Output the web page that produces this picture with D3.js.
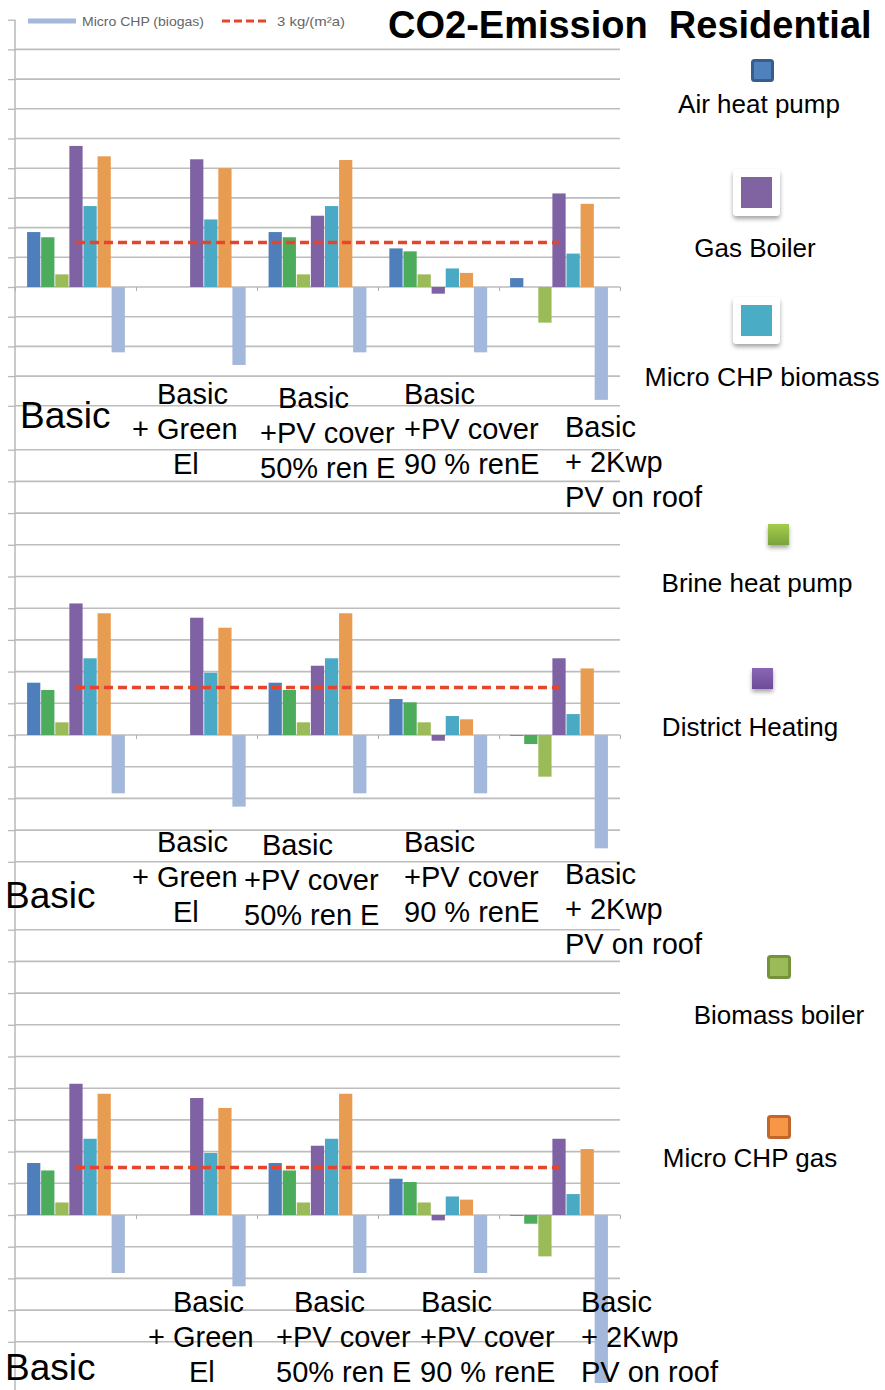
<!DOCTYPE html>
<html><head><meta charset="utf-8">
<script src="https://cdn.jsdelivr.net/npm/d3@7"></script>
<style>
body{margin:0;background:#fff}
svg{display:block}
text{font-family:"Liberation Sans",Arial,Helvetica,sans-serif}
</style>
</head><body>
<svg id="c" width="885" height="1390"></svg>
<script>
// ---------------- DATA ----------------
const categories = ["Basic", "Basic + Green El", "Basic +PV cover 50% ren E", "Basic +PV cover 90 % renE", "Basic + 2Kwp PV on roof"];
const labelLines = [["Basic"], ["Basic", "+ Green", "El"], ["Basic", "+PV cover", "50% ren E"], ["Basic", "+PV cover", "90 % renE"], ["Basic", "+ 2Kwp", "PV on roof"]];
const seriesNames = ["Air heat pump", "Brine heat pump", "Biomass boiler", "Gas Boiler", "Micro CHP biomass", "Micro CHP gas", "Micro CHP (biogas)"];
const seriesColors = ["#4f7fbb", "#4dab5c", "#9bbb59", "#7e62a3", "#4aa9c4", "#e89c52", "#a3b8db"];
const yTicks = [-8, -6, -4, -2, 0, 2, 4, 6, 8, 10, 12, 14, 16, 18];
const thresholdName = "3 kg/(m\u00b2a)";
const thresholdValues = [3, 3, 3, 3, 3];
const titleText = "CO2-Emission  Residential";

// values [series][category], one table per panel (kg CO2/(m²a))
const panel1Values = [
  [3.7, 0, 3.7, 2.6, 0.6],
  [3.35, 0, 3.35, 2.4, 0],
  [0.85, 0, 0.85, 0.85, -2.4],
  [9.5, 8.6, 4.8, -0.45, 6.3],
  [5.45, 4.55, 5.45, 1.25, 2.25],
  [8.8, 8.0, 8.55, 0.95, 5.6],
  [-4.4, -5.25, -4.4, -4.4, -7.6]
];
const panel2Values = [
  [3.3, 0, 3.3, 2.27, -0.05],
  [2.84, 0, 2.84, 2.06, -0.57],
  [0.8, 0, 0.8, 0.8, -2.63],
  [8.3, 7.4, 4.37, -0.36, 4.84],
  [4.84, 3.93, 4.84, 1.2, 1.32],
  [7.68, 6.77, 7.68, 0.99, 4.2],
  [-3.68, -4.52, -3.68, -3.68, -7.15]
];
const panel3Values = [
  [3.28, 0, 3.28, 2.29, -0.05],
  [2.81, 0, 2.81, 2.08, -0.55],
  [0.79, 0, 0.79, 0.79, -2.61],
  [8.28, 7.38, 4.37, -0.34, 4.81],
  [4.81, 3.91, 4.81, 1.17, 1.32],
  [7.65, 6.75, 7.65, 0.97, 4.16],
  [-3.66, -4.5, -3.66, -3.66, -10.6]
];
const legendNames = ["Air heat pump", "Gas Boiler", "Micro CHP biomass", "Brine heat pump", "District Heating", "Biomass boiler", "Micro CHP gas"];
const legendFills = ["#4f81bd", "#8064a2", "#4bacc6", "#9bbb59", "#7f5aa8", "#9bbb59", "#f79646"];

// ---------------- LAYOUT ----------------
const svg = d3.select("#c");
const defs = svg.append("defs");
const sh = defs.append("filter").attr("id", "sh").attr("x", "-40%").attr("y", "-40%").attr("width", "180%").attr("height", "180%");
sh.append("feDropShadow").attr("dx", 0).attr("dy", 3).attr("stdDeviation", 2).attr("flood-color", "#000").attr("flood-opacity", 0.35);
const gg = defs.append("linearGradient").attr("id", "gBrine").attr("x1", 0).attr("y1", 0).attr("x2", 0).attr("y2", 1);
gg.append("stop").attr("offset", "0%").attr("stop-color", "#a6cc4e");
gg.append("stop").attr("offset", "100%").attr("stop-color", "#79a33a");
const gd = defs.append("linearGradient").attr("id", "gDist").attr("x1", 0).attr("y1", 0).attr("x2", 0).attr("y2", 1);
gd.append("stop").attr("offset", "0%").attr("stop-color", "#8a66b4");
gd.append("stop").attr("offset", "100%").attr("stop-color", "#6d4c98");

const plotX = [15, 620];
const panels = [
  { values: panel1Values, yRange: [405.8, 19.7], axisSpan: [19.7, 440], grid: yTicks.slice(0, -1),
    labels: [{ x: [20], y: 428 }, { x: [157, 132, 173], y: 404 }, { x: [278, 260, 260], y: 408 }, { x: [404, 404, 404], y: 404 }, { x: [565, 565, 565], y: 437 }] },
  { values: panel2Values, yRange: [861.8, 449.7], axisSpan: [440, 920], grid: yTicks,
    labels: [{ x: [5], y: 908 }, { x: [157, 132, 173], y: 852 }, { x: [262, 244, 244], y: 855 }, { x: [404, 404, 404], y: 852 }, { x: [565, 565, 565], y: 884 }] },
  { values: panel3Values, yRange: [1341.8, 929.7], axisSpan: [920, 1390], grid: yTicks,
    labels: [{ x: [5], y: 1380 }, { x: [173, 148, 189], y: 1312 }, { x: [294, 276, 276], y: 1312 }, { x: [421, 420, 420], y: 1312 }, { x: [581, 581, 581], y: 1312 }] }
];

const x0 = d3.scaleBand().domain(categories).range(plotX).paddingInner(0.19).paddingOuter(0.1);
const x1 = d3.scaleBand().domain(seriesNames).range([0, x0.bandwidth()]).paddingInner(0.06);
const xb = d3.scaleLinear().domain([0, categories.length]).range(plotX);

panels.forEach((p, pi) => {
  const y = d3.scaleLinear().domain([-8, 18]).range(p.yRange);
  const g = svg.append("g");

  // gridlines
  g.selectAll("line.grid").data(p.grid).join("line")
    .attr("x1", plotX[0]).attr("x2", plotX[1])
    .attr("y1", d => y(d)).attr("y2", d => y(d))
    .attr("stroke", "#bdbdbd").attr("stroke-width", 1.6);

  // y axis (ticks only, no labels)
  const ya = g.append("g").attr("transform", `translate(${plotX[0]},0)`)
    .call(d3.axisLeft(y).tickValues(yTicks).tickFormat("").tickSize(7).tickSizeOuter(0));
  ya.selectAll("line").attr("stroke", "#b8b8b8").attr("stroke-width", 1.3);
  ya.select(".domain").remove();
  g.append("line").attr("x1", plotX[0]).attr("x2", plotX[0])
    .attr("y1", p.axisSpan[0]).attr("y2", p.axisSpan[1])
    .attr("stroke", "#b8b8b8").attr("stroke-width", 1.5);

  // category ticks on zero line
  const xa = g.append("g").attr("transform", `translate(0,${y(0)})`)
    .call(d3.axisBottom(xb).ticks(categories.length).tickFormat("").tickSize(4).tickSizeOuter(0));
  xa.select(".domain").remove();
  xa.selectAll("line").attr("stroke", "#b0b0b0");

  // bars
  const rows = [];
  categories.forEach((c, ci) => seriesNames.forEach((s, si) => rows.push({ c, s, si, v: p.values[si][ci] })));
  g.selectAll("rect.bar").data(rows.filter(d => d.v !== 0)).join("rect")
    .attr("x", d => x0(d.c) + x1(d.s))
    .attr("width", x1.bandwidth())
    .attr("y", d => y(Math.max(0, d.v)))
    .attr("height", d => Math.abs(y(d.v) - y(0)))
    .attr("fill", d => seriesColors[d.si]);

  // threshold dashed line
  const line = d3.line().x((d, i) => x0(categories[i]) + x0.bandwidth() / 2).y(d => y(d));
  g.append("path").attr("d", line(thresholdValues))
    .attr("fill", "none").attr("stroke", "#e5462b").attr("stroke-width", 3.5)
    .attr("stroke-dasharray", "9,5");

  // category labels
  p.labels.forEach((lab, ci) => {
    const lines = labelLines[ci];
    lines.forEach((t, li) => {
      svg.append("text").attr("x", lab.x[li]).attr("y", lab.y + li * 35)
        .attr("font-size", ci === 0 ? 37 : 29).attr("fill", "#000").text(t);
    });
  });
});

// ---------- top legend (panel 1) ----------
const lg = svg.append("g");
lg.append("line").attr("x1", 28).attr("x2", 76).attr("y1", 21).attr("y2", 21)
  .attr("stroke", seriesColors[6]).attr("stroke-width", 5);
lg.append("text").attr("x", 82).attr("y", 26).attr("font-size", 13).attr("fill", "#666")
  .attr("textLength", 122).attr("lengthAdjust", "spacingAndGlyphs").text(seriesNames[6]);
lg.append("line").attr("x1", 222).attr("x2", 270).attr("y1", 21).attr("y2", 21)
  .attr("stroke", "#e5462b").attr("stroke-width", 3).attr("stroke-dasharray", "8,4");
lg.append("text").attr("x", 277).attr("y", 26).attr("font-size", 13).attr("fill", "#666")
  .attr("textLength", 68).attr("lengthAdjust", "spacingAndGlyphs").text(thresholdName);

// ---------- title (sized so it stays inside the frame) ----------
svg.append("text").attr("x", 388).attr("y", 38).attr("font-size", 38).attr("font-weight", "bold")
  .style("white-space", "pre").attr("fill", "#000").text(titleText);

// ---------- right-side legend ----------
const legendLayout = [
  { box: [751, 59, 23], style: "edge", stroke: "#385d8a", tx: 759, ty: 113 },
  { box: [741, 177, 31], style: "framed", tx: 755, ty: 257 },
  { box: [741, 305, 31], style: "framed", tx: 762, ty: 386, len: 235 },
  { box: [768, 524, 21], style: "shadow", fill: "url(#gBrine)", tx: 757, ty: 592 },
  { box: [752, 668, 21], style: "shadow", fill: "url(#gDist)", tx: 750, ty: 736 },
  { box: [767, 955, 24], style: "edge", stroke: "#76923c", tx: 779, ty: 1024 },
  { box: [767, 1115, 24], style: "edge", stroke: "#c0682c", tx: 750, ty: 1167 }
];
legendNames.forEach((name, i) => {
  const L = legendLayout[i];
  const [bx, by, bs] = L.box;
  if (L.style === "framed") {
    svg.append("rect").attr("x", bx - 8).attr("y", by - 8).attr("width", bs + 16).attr("height", bs + 16)
      .attr("rx", 4).attr("fill", "#fff").attr("filter", "url(#sh)");
    svg.append("rect").attr("x", bx).attr("y", by).attr("width", bs).attr("height", bs).attr("fill", legendFills[i]);
  } else if (L.style === "shadow") {
    svg.append("rect").attr("x", bx).attr("y", by).attr("width", bs).attr("height", bs)
      .attr("fill", L.fill).attr("filter", "url(#sh)");
  } else {
    svg.append("rect").attr("x", bx + 1.5).attr("y", by + 1.5).attr("width", bs - 3).attr("height", bs - 3)
      .attr("rx", 2).attr("fill", legendFills[i]).attr("stroke", L.stroke).attr("stroke-width", 3);
  }
  const t = svg.append("text").attr("x", L.tx).attr("y", L.ty).attr("text-anchor", "middle")
    .attr("font-size", 26).attr("fill", "#000").text(name);
  if (L.len) t.attr("textLength", L.len).attr("lengthAdjust", "spacingAndGlyphs");
});
</script>
</body></html>
